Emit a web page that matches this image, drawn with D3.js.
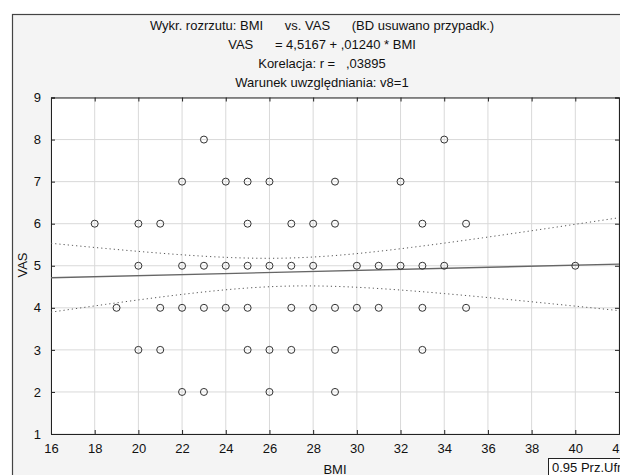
<!DOCTYPE html>
<html>
<head>
<meta charset="utf-8">
<script src="https://cdn.jsdelivr.net/npm/d3@7"></script>
<style>
  body { margin: 0; background: #fff; }
  svg text { font-family: "Liberation Sans", Arial, sans-serif; fill: #111; }
</style>
</head>
<body>
<div id="scatter"></div>
<script>
// chart data (BMI vs VAS)
var titleLines = [
  "Wykr. rozrzutu: BMI      vs. VAS      (BD usuwano przypadk.)",
  "VAS      = 4,5167 + ,01240 * BMI",
  "Korelacja: r =   ,03895",
  "Warunek uwzględniania: v8=1"
];
var vas8 = [23, 34];
var vas7 = [22, 24, 25, 26, 29, 32];
var vas6 = [18, 20, 21, 25, 27, 28, 29, 33, 35];
var vas5 = [20, 22, 23, 24, 25, 26, 27, 28, 30, 31, 32, 33, 34, 40];
var vas4 = [19, 21, 22, 23, 24, 25, 27, 28, 29, 30, 31, 33, 35];
var vas3 = [20, 21, 25, 26, 27, 29, 33];
var vas2 = [22, 23, 26, 29];
var intercept = 4.5167;
var slope = 0.0124;
// many cases overlap on the integer grid; estimated total case count
var nCases = 84;
var xTicks = [16, 18, 20, 22, 24, 26, 28, 30, 32, 34, 36, 38, 40, 42];
var yTicks = [1, 2, 3, 4, 5, 6, 7, 8, 9];

var svgWidth = 620;
var svgHeight = 475;
var margin = { top: 97.5, right: 0, bottom: 41, left: 51 };
var width = 568;
var height = svgHeight - margin.top - margin.bottom;

var svg = d3.select("#scatter")
  .append("svg")
  .attr("width", svgWidth)
  .attr("height", svgHeight);

// outer frame
svg.append("rect")
  .attr("x", 12.5).attr("y", 14.5)
  .attr("width", 620).attr("height", 480)
  .attr("fill", "#f4f4f4")
  .attr("stroke", "#444")
  .attr("stroke-width", 1.2);

// titles
svg.selectAll("text.title")
  .data(titleLines)
  .enter()
  .append("text")
  .attr("class", "title")
  .attr("x", 322)
  .attr("y", (d, i) => 30 + i * 19)
  .attr("text-anchor", "middle")
  .style("font-size", "13px")
  .style("white-space", "pre")
  .text(d => d);

var chartGroup = svg.append("g")
  .attr("transform", `translate(${margin.left}, ${margin.top})`);

var x = d3.scaleLinear().domain([16, 42]).range([0, width]);
var y = d3.scaleLinear().domain([1, 9]).range([height, 0]);

chartGroup.append("rect")
  .attr("width", width + 10).attr("height", height)
  .attr("fill", "#fff");

// grid
chartGroup.selectAll("line.gx")
  .data(xTicks)
  .enter()
  .append("line")
  .attr("x1", d => x(d)).attr("x2", d => x(d))
  .attr("y1", 0).attr("y2", height)
  .attr("stroke", "#d9d9d9");

chartGroup.selectAll("line.gy")
  .data(yTicks)
  .enter()
  .append("line")
  .attr("x1", 0).attr("x2", width + 10)
  .attr("y1", d => y(d)).attr("y2", d => y(d))
  .attr("stroke", "#d9d9d9");

// axes (inward ticks)
var bottomAxis = d3.axisBottom(x).tickValues(xTicks).tickSize(-4).tickPadding(10).tickFormat(d3.format("d"));
var topAxis = d3.axisTop(x).tickValues(xTicks).tickSize(-4).tickFormat("");
var leftAxis = d3.axisLeft(y).tickValues(yTicks).tickSize(-4).tickPadding(10).tickFormat(d3.format("d"));
var rightAxis = d3.axisRight(y).tickValues(yTicks).tickSize(-4).tickFormat("");

function styleAxis(g) {
  g.select(".domain").attr("stroke", "#222");
  g.selectAll(".tick line").attr("stroke", "#222");
  g.selectAll("text").style("font-size", "13px").attr("fill", "#111");
}

chartGroup.append("g").attr("transform", `translate(0, ${height})`).call(bottomAxis).call(styleAxis);
chartGroup.append("g").call(topAxis).call(styleAxis);
chartGroup.append("g").call(leftAxis).call(styleAxis);
chartGroup.append("g").attr("transform", `translate(${width}, 0)`).call(rightAxis).call(styleAxis);

// points
var rows = [[8, vas8], [7, vas7], [6, vas6], [5, vas5], [4, vas4], [3, vas3], [2, vas2]];
var points = [];
rows.forEach(function(r) {
  r[1].forEach(function(b) { points.push({ bmi: b, vas: r[0] }); });
});

// regression line and 0.95 confidence band
var n = points.length;
var xbar = d3.mean(points, d => d.bmi);
var sxx = d3.sum(points, d => (d.bmi - xbar) * (d.bmi - xbar)) * nCases / n;
var sse = d3.sum(points, d => Math.pow(d.vas - (intercept + slope * d.bmi), 2));
var s = Math.sqrt(sse / (n - 2));
var tval = 1.99;
var xs = d3.range(16, 42.01, 0.25);
function half(b) { return tval * s * Math.sqrt(1 / nCases + (b - xbar) * (b - xbar) / sxx); }

var line = d3.line().x(d => x(d[0])).y(d => y(d[1]));

chartGroup.append("path")
  .datum(xs.map(b => [b, intercept + slope * b + half(b)]))
  .attr("d", line).attr("fill", "none")
  .attr("stroke", "#555").attr("stroke-width", 1).attr("stroke-dasharray", "1.2,3");
chartGroup.append("path")
  .datum(xs.map(b => [b, intercept + slope * b - half(b)]))
  .attr("d", line).attr("fill", "none")
  .attr("stroke", "#555").attr("stroke-width", 1).attr("stroke-dasharray", "1.2,3");
chartGroup.append("path")
  .datum([[16, intercept + slope * 16], [42, intercept + slope * 42]])
  .attr("d", line).attr("fill", "none")
  .attr("stroke", "#666").attr("stroke-width", 1.4);

chartGroup.selectAll("circle")
  .data(points)
  .enter()
  .append("circle")
  .attr("cx", d => x(d.bmi))
  .attr("cy", d => y(d.vas))
  .attr("r", 3.5)
  .attr("fill", "none")
  .attr("stroke", "#333")
  .attr("stroke-width", 1);

// axis labels
svg.append("text")
  .attr("transform", "translate(27, 265) rotate(-90)")
  .attr("text-anchor", "middle")
  .style("font-size", "13px")
  .text("VAS");

svg.append("text")
  .attr("x", 335).attr("y", 474)
  .attr("text-anchor", "middle")
  .style("font-size", "13px")
  .text("BMI");

// legend box
svg.append("rect")
  .attr("x", 548.5).attr("y", 458.5)
  .attr("width", 90).attr("height", 30)
  .attr("fill", "#fff").attr("stroke", "#222");
svg.append("text")
  .attr("x", 552).attr("y", 472)
  .style("font-size", "13px")
  .text("0.95 Prz.Ufn.");
</script>
</body>
</html>
